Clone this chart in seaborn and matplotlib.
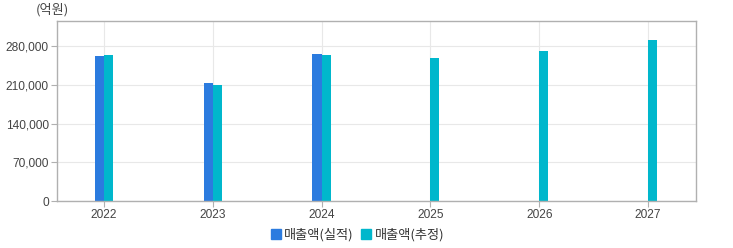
import numpy as np
import pandas as pd
import matplotlib
matplotlib.use("Agg")
import matplotlib.pyplot as plt
from matplotlib.lines import Line2D
import seaborn as sns

years = ["2022", "2023", "2024", "2025", "2026", "2027"]
actual = [262300, 213400, 265900, np.nan, np.nan, np.nan]
estimate = [264100, 209800, 264100, 258700, 271300, 291200]
series_names = ["매출액(실적)", "매출액(추정)"]
yticks = [0, 70000, 140000, 210000, 280000]
colors = ["#2b7bdf", "#00b7cc"]

df = pd.DataFrame({
    "year": years * 2,
    "value": actual + estimate,
    "series": [series_names[0]] * len(years) + [series_names[1]] * len(years),
})

sns.set_theme(style="white")
plt.rcParams["font.family"] = ["Noto Sans CJK KR", "DejaVu Sans"]

fig = plt.figure(figsize=(7.33, 2.48), dpi=100)
ax = fig.add_axes([57 / 733, 1 - 201 / 248, (696 - 57) / 733, (201 - 20.7) / 248])

sns.barplot(data=df, x="year", y="value", hue="series", order=years,
            hue_order=series_names, palette=colors, width=0.166,
            saturation=1, ax=ax, legend=False, errorbar=None,
            linewidth=0, edgecolor="none")
for p in ax.patches:
    p.set_antialiased(False)

ax.set_xlim(-0.43, 5.44)
ax.set_ylim(0, 326000)
ax.set_yticks(yticks)
ax.set_yticklabels([f"{v:,}" for v in yticks])
ax.set_xlabel("")
ax.set_ylabel("")
ax.set_axisbelow(True)
ax.grid(True, color="#e8e8e8", linewidth=0.8)
for s in ax.spines.values():
    s.set_color("#b0b0b0")
    s.set_linewidth(1.0)
    s.set_visible(True)
ax.tick_params(axis="both", which="major", length=4, width=0.8, color="#b0b0b0",
               labelcolor="#444444", pad=2, bottom=True, left=True)
for lbl in ax.get_xticklabels() + ax.get_yticklabels():
    lbl.set_fontfamily(["Liberation Sans", "DejaVu Sans"])
    lbl.set_fontsize(8.6)

fig.text(36 / 733, 1 - 10 / 248, "(억원)", fontsize=9.5, color="#444444",
         va="center", ha="left")

handles = [Line2D([0], [0], marker="s", linestyle="", markersize=6.5,
                  markerfacecolor=c, markeredgecolor=c) for c in colors]
fig.legend(handles, series_names, loc="center", bbox_to_anchor=(0.488, 0.052),
           ncol=2, frameon=False, fontsize=9.5, handlelength=0.7,
           handletextpad=0.3, columnspacing=0.6, labelcolor="#333333")

fig.savefig("out.png", dpi=100)
